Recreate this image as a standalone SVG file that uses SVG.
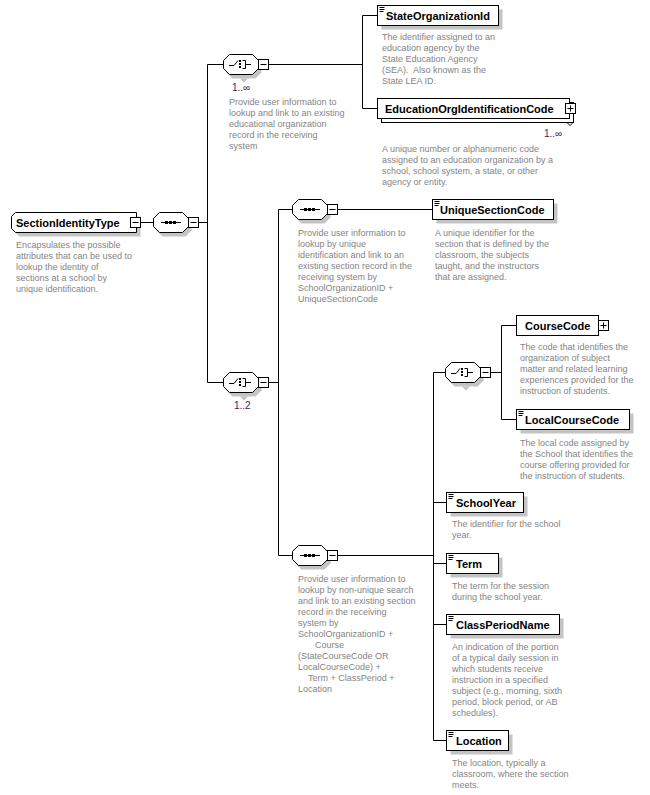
<svg xmlns="http://www.w3.org/2000/svg" xmlns:xlink="http://www.w3.org/1999/xlink" width="650" height="795" viewBox="0 0 650 795">
<style>
.ln{stroke:#000;stroke-width:1;fill:none}
.box{fill:#fff;stroke:#000;stroke-width:1}
.sh{fill:#c4c4c4;stroke:none}
.lbl{font-family:"Liberation Sans",Arial,sans-serif;font-weight:bold;font-size:11px;fill:#000}
.desc{font-family:"Liberation Sans",Arial,sans-serif;font-size:9px;fill:#848484}
.mult{font-family:"Liberation Sans",Arial,sans-serif;font-size:10px;fill:#3a1a60}
</style>
<defs>
<g id="oct">
<path class="sh" d="M9.5,-6 H32.5 L38.5,0 V8 L32.5,14 H9.5 L3.5,8 V0 Z"/>
<path class="box" d="M6.5,-10 H29.5 L35.5,-4 V4 L29.5,10 H6.5 L0.5,4 V-4 Z"/>
</g>
<g id="seq">
<use xlink:href="#oct"/>
<path class="ln" d="M8,0 H28"/>
<rect x="12" y="-1.5" width="3" height="3" fill="#000"/>
<rect x="16" y="-1.5" width="3" height="3" fill="#000"/>
<rect x="20" y="-1.5" width="3" height="3" fill="#000"/>
</g>
<g id="choice">
<use xlink:href="#oct"/>
<path class="sh" d="M17,14 L21,18 L25,14 Z"/>
<path class="ln" d="M6,1 H11 L15,-4"/>
<rect x="16" y="-4.5" width="2" height="2" fill="#000"/>
<rect x="16" y="-1.5" width="2" height="2" fill="#000"/>
<rect x="16" y="1.5" width="2" height="2" fill="#000"/>
<path class="ln" d="M19.5,-4 H22.5 V4 H19.5 M22.5,0 H28"/>
</g>
<g id="minus">
<rect x="0.5" y="-5" width="10" height="10" class="box"/>
<path class="ln" d="M2.5,0 H8.5"/>
</g>
<g id="plus">
<rect x="0.5" y="-5" width="10" height="10" class="box"/>
<path class="ln" d="M2.5,0 H8.5 M5.5,-3 V3"/>
</g>
<g id="icon">
<path class="ln" d="M2,2 H7 M2,4 H7 M2,6 H6"/>
</g>
</defs>

<g id="connectors">
<path class="ln" d="M140,222.5 H153 M198,222.5 H207.5"/>
<path class="ln" d="M207.5,64.5 V382.5 M207.5,64.5 H223 M207.5,382.5 H223"/>
<path class="ln" d="M268,64.5 H362.5 M362.5,15.5 V108.5 M362.5,15.5 H377 M362.5,108.5 H377"/>
<path class="ln" d="M268,382.5 H278.5 M278.5,209.5 V555.5 M278.5,209.5 H292 M278.5,555.5 H292"/>
<path class="ln" d="M337,209.5 H432"/>
<path class="ln" d="M337,555.5 H433.5 M433.5,372.5 V740.5 M433.5,372.5 H445"/>
<path class="ln" d="M490,372.5 H501.5 M501.5,325.5 V419.5 M501.5,325.5 H516 M501.5,419.5 H516"/>
<path class="ln" d="M433.5,502.5 H446 M433.5,563.5 H446 M433.5,624.5 H446 M433.5,740.5 H446"/>
</g>

<g id="SectionIdentityType">
<path class="sh" d="M19.5,216.5 H140.5 V236.5 H19.5 L15.5,232.5 V220.5 Z"/>
<path class="box" d="M15.5,212.5 H136.5 V232.5 H15.5 L11.5,228.5 V216.5 Z"/>
<text class="lbl" x="16" y="227">SectionIdentityType</text>
<use xlink:href="#minus" transform="translate(130,222.5)"/>
<text class="desc"><tspan x="16" y="248">Encapsulates the possible</tspan><tspan x="16" y="259">attributes that can be used to</tspan><tspan x="16" y="270">lookup the identity of</tspan><tspan x="16" y="281">sections at a school by</tspan><tspan x="16" y="292">unique identification.</tspan></text>
</g>

<g id="seq-root">
<use xlink:href="#seq" transform="translate(153,222.5)"/>
<use xlink:href="#minus" transform="translate(188,222.5)"/>
</g>

<g id="choice-org">
<use xlink:href="#choice" transform="translate(223,64.5)"/>
<use xlink:href="#minus" transform="translate(258,64.5)"/>
<text class="mult" x="232" y="91">1..∞</text>
<text class="desc"><tspan x="229" y="105">Provide user information to</tspan><tspan x="229" y="116">lookup and link to an existing</tspan><tspan x="229" y="127">educational organization</tspan><tspan x="229" y="138">record in the receiving</tspan><tspan x="229" y="149">system</tspan></text>
</g>

<g id="StateOrganizationId">
<rect class="sh" x="381.5" y="9.5" width="121" height="20"/>
<rect class="box" x="377.5" y="5.5" width="121" height="20"/>
<use xlink:href="#icon" transform="translate(377.5,5.5)"/>
<text class="lbl" x="386" y="20">StateOrganizationId</text>
<text class="desc"><tspan x="382" y="40">The identifier assigned to an</tspan><tspan x="382" y="51">education agency by the</tspan><tspan x="382" y="62">State Education Agency</tspan><tspan x="382" y="73">(SEA).&#160; Also known as the</tspan><tspan x="382" y="84">State LEA ID.</tspan></text>
</g>

<g id="EducationOrgIdentificationCode">
<rect class="box" x="381.5" y="102.5" width="192" height="20"/>
<rect class="box" x="377.5" y="98.5" width="192" height="20"/>
<use xlink:href="#plus" transform="translate(565,108.5)"/>
<path class="ln" d="M567,122.5 L570,125.5 L573,122.5"/>
<text class="lbl" x="385" y="113">EducationOrgIdentificationCode</text>
<text class="mult" x="544" y="137">1..∞</text>
<text class="desc"><tspan x="382" y="152">A unique number or alphanumeric code</tspan><tspan x="382" y="163">assigned to an education organization by a</tspan><tspan x="382" y="174">school, school system, a state, or other</tspan><tspan x="382" y="185">agency or entity.</tspan></text>
</g>

<g id="choice-section">
<use xlink:href="#choice" transform="translate(223,382.5)"/>
<use xlink:href="#minus" transform="translate(258,382.5)"/>
<text class="mult" x="234" y="409">1..2</text>
</g>

<g id="seq-unique">
<use xlink:href="#seq" transform="translate(292,209.5)"/>
<use xlink:href="#minus" transform="translate(327,209.5)"/>
<text class="desc"><tspan x="298" y="236">Provide user information to</tspan><tspan x="298" y="247">lookup by unique</tspan><tspan x="298" y="258">identification and link to an</tspan><tspan x="298" y="269">existing section record in the</tspan><tspan x="298" y="280">receiving system by</tspan><tspan x="298" y="291">SchoolOrganizationID +</tspan><tspan x="298" y="302">UniqueSectionCode</tspan></text>
</g>

<g id="UniqueSectionCode">
<rect class="sh" x="436.5" y="203.5" width="121" height="20"/>
<rect class="box" x="432.5" y="199.5" width="121" height="20"/>
<use xlink:href="#icon" transform="translate(432.5,199.5)"/>
<text class="lbl" x="440" y="214">UniqueSectionCode</text>
<text class="desc"><tspan x="435" y="236">A unique identifier for the</tspan><tspan x="435" y="247">section that is defined by the</tspan><tspan x="435" y="258">classroom, the subjects</tspan><tspan x="435" y="269">taught, and the instructors</tspan><tspan x="435" y="280">that are assigned.</tspan></text>
</g>

<g id="seq-nonunique">
<use xlink:href="#seq" transform="translate(292,555.5)"/>
<use xlink:href="#minus" transform="translate(327,555.5)"/>
<text class="desc"><tspan x="298" y="582">Provide user information to</tspan><tspan x="298" y="593">lookup by non-unique search</tspan><tspan x="298" y="604">and link to an existing section</tspan><tspan x="298" y="615">record in the receiving</tspan><tspan x="298" y="626">system by</tspan><tspan x="298" y="637">SchoolOrganizationID +</tspan><tspan x="315" y="648">Course</tspan><tspan x="298" y="659">(StateCourseCode OR</tspan><tspan x="298" y="670">LocalCourseCode) +</tspan><tspan x="308" y="681">Term + ClassPeriod +</tspan><tspan x="298" y="692">Location</tspan></text>
</g>

<g id="choice-course">
<use xlink:href="#choice" transform="translate(445,372.5)"/>
<use xlink:href="#minus" transform="translate(480,372.5)"/>
</g>

<g id="CourseCode">
<rect class="box" x="516.5" y="315.5" width="82" height="20"/>
<use xlink:href="#plus" transform="translate(598,325.5)"/>
<text class="lbl" x="525" y="330">CourseCode</text>
<text class="desc"><tspan x="520" y="350">The code that identifies the</tspan><tspan x="520" y="361">organization of subject</tspan><tspan x="520" y="372">matter and related learning</tspan><tspan x="520" y="383">experiences provided for the</tspan><tspan x="520" y="394">instruction of students.</tspan></text>
</g>

<g id="LocalCourseCode">
<rect class="sh" x="520.5" y="413.5" width="113" height="20"/>
<rect class="box" x="516.5" y="409.5" width="113" height="20"/>
<use xlink:href="#icon" transform="translate(516.5,409.5)"/>
<text class="lbl" x="525" y="424">LocalCourseCode</text>
<text class="desc"><tspan x="520" y="446">The local code assigned by</tspan><tspan x="520" y="457">the School that identifies the</tspan><tspan x="520" y="468">course offering provided for</tspan><tspan x="520" y="479">the instruction of students.</tspan></text>
</g>

<g id="SchoolYear">
<rect class="sh" x="450.5" y="496.5" width="77" height="20"/>
<rect class="box" x="446.5" y="492.5" width="77" height="20"/>
<use xlink:href="#icon" transform="translate(446.5,492.5)"/>
<text class="lbl" x="456" y="507">SchoolYear</text>
<text class="desc"><tspan x="452" y="527">The identifier for the school</tspan><tspan x="452" y="538">year.</tspan></text>
</g>

<g id="Term">
<rect class="sh" x="450.5" y="557.5" width="52" height="20"/>
<rect class="box" x="446.5" y="553.5" width="52" height="20"/>
<use xlink:href="#icon" transform="translate(446.5,553.5)"/>
<text class="lbl" x="456" y="568">Term</text>
<text class="desc"><tspan x="452" y="589">The term for the session</tspan><tspan x="452" y="600">during the school year.</tspan></text>
</g>

<g id="ClassPeriodName">
<rect class="sh" x="450.5" y="618.5" width="113" height="20"/>
<rect class="box" x="446.5" y="614.5" width="113" height="20"/>
<use xlink:href="#icon" transform="translate(446.5,614.5)"/>
<text class="lbl" x="456" y="629">ClassPeriodName</text>
<text class="desc"><tspan x="452" y="650">An indication of the portion</tspan><tspan x="452" y="661">of a typical daily session in</tspan><tspan x="452" y="672">which students receive</tspan><tspan x="452" y="683">instruction in a specified</tspan><tspan x="452" y="694">subject (e.g., morning, sixth</tspan><tspan x="452" y="705">period, block period, or AB</tspan><tspan x="452" y="716">schedules).</tspan></text>
</g>

<g id="Location">
<rect class="sh" x="450.5" y="734.5" width="62" height="20"/>
<rect class="box" x="446.5" y="730.5" width="62" height="20"/>
<use xlink:href="#icon" transform="translate(446.5,730.5)"/>
<text class="lbl" x="456" y="745">Location</text>
<text class="desc"><tspan x="452" y="766">The location, typically a</tspan><tspan x="452" y="777">classroom, where the section</tspan><tspan x="452" y="788">meets.</tspan></text>
</g>
</svg>
